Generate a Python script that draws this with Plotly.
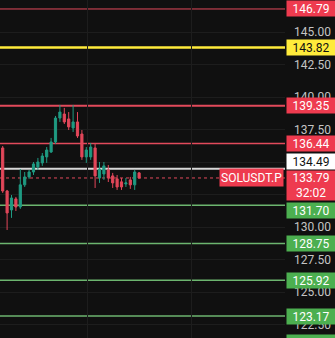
import plotly.graph_objects as go

# ---- data ----
candle_index = list(range(32))
open_ = [136.10, 132.79, 131.33, 132.18, 131.56, 133.26, 133.87, 134.25, 134.64, 134.95,
         135.41, 135.79, 136.56, 138.40, 138.71, 138.33, 137.64, 138.10, 137.17, 135.41,
         135.41, 136.10, 133.79, 134.10, 134.41, 133.95, 133.72, 133.49, 133.33, 133.64,
         133.26, 134.18]
close = [132.79, 131.10, 132.25, 131.56, 133.26, 133.87, 134.25, 134.87, 135.02, 135.48,
         135.94, 136.56, 138.40, 138.86, 138.10, 137.72, 138.10, 137.02, 135.41, 135.94,
         136.17, 133.95, 134.48, 134.72, 133.79, 133.41, 133.10, 133.10, 133.41, 133.26,
         134.25, 133.79]
high = [136.25, 132.87, 132.48, 132.33, 134.48, 134.25, 134.41, 135.02, 135.33, 135.71,
        136.17, 136.87, 138.56, 139.41, 139.18, 138.86, 139.41, 138.86, 137.48, 136.17,
        136.48, 136.48, 135.02, 135.02, 134.79, 134.18, 134.02, 133.79, 133.79, 133.87,
        134.41, 134.25]
low = [132.64, 129.79, 130.72, 131.25, 131.41, 133.10, 133.72, 134.02, 134.41, 134.72,
       134.95, 135.71, 136.41, 138.10, 137.94, 137.48, 137.33, 136.87, 135.18, 134.95,
       135.18, 133.02, 133.41, 133.64, 133.48, 133.02, 132.87, 132.87, 133.10, 132.95,
       132.87, 133.75]

red_levels = [146.79, 139.35, 136.44]
yellow_levels = [143.82]
green_levels = [131.70, 128.75, 125.92, 123.17]
offscreen_green_level = 121.10
white_level = 134.49
last_price = 133.79
countdown = "32:02"
symbol = "SOLUSDT.P"
tick_values = [122.5, 125.0, 127.5, 130.0, 132.5, 135.0, 137.5, 140.0, 142.5, 145.0, 147.5]
hidden_tick_values = [132.5, 135.0, 147.5]   # covered by price labels in the reference

# ---- style ----
BG = "#101010"
GRID = "#1d1d1d"
RED = "#ee3b4f"
RED_LINE = "#e24a5b"
GREEN = "#4caf50"
GREEN_LINE = "#6cb56f"
YELLOW = "#ffeb3b"
UP = "#1f9a82"
DOWN = "#e2475a"
Y0, Y1 = 121.48, 147.48
FONT = "Roboto"

fig = go.Figure()
fig.add_trace(go.Candlestick(
    x=candle_index, open=open_, high=high, low=low, close=close,
    increasing=dict(line=dict(color=UP, width=1), fillcolor=UP),
    decreasing=dict(line=dict(color=DOWN, width=1), fillcolor=DOWN),
    whiskerwidth=0, showlegend=False, hoverinfo="skip",
))

shapes = []
def hline(y, color, width, dash="solid"):
    shapes.append(dict(type="line", xref="paper", x0=0, x1=1, yref="y", y0=y, y1=y,
                       line=dict(color=color, width=width, dash=dash), layer="below"))

red_widths = [1, 2, 1.5]
for lv, w in zip(red_levels, red_widths):
    hline(lv, RED_LINE, w)
for lv in yellow_levels:
    hline(lv, YELLOW, 2.5)
for lv in green_levels:
    hline(lv, GREEN_LINE, 1.5)
hline(white_level, "#d8d8d8", 2)
hline(last_price, RED_LINE, 1, "dot")

annotations = []
def label(y, text, bg, fg, yshift=0, height=15, yanchor="middle", yref="y"):
    annotations.append(dict(xref="paper", x=1, xanchor="left", xshift=1,
                            yref=yref, y=y, yanchor=yanchor, yshift=yshift,
                            text=text, showarrow=False, bgcolor=bg,
                            font=dict(family=FONT, size=12, color=fg),
                            width=48, height=height, borderpad=0, align="center"))

for lv in red_levels:
    label(lv, f"{lv:.2f}", RED, "white")
for lv in yellow_levels:
    label(lv, f"{lv:.2f}", YELLOW, "#111111")
label(white_level, f"{white_level:.2f}", "#ffffff", "#111111", yshift=7)
label(last_price, f"{last_price:.2f}<br>{countdown}", RED, "white",
      yshift=8, height=29, yanchor="top")
green_shifts = [-5, 0, 0, 0]
for lv, s in zip(green_levels, green_shifts):
    label(lv, f"{lv:.2f}", GREEN, "white", yshift=s)
label((offscreen_green_level - Y0) / (Y1 - Y0), "", GREEN, "white", yref="paper")

annotations.append(dict(xref="paper", x=1, xanchor="right", xshift=-1,
                        yref="y", y=last_price, yanchor="middle",
                        text=symbol, showarrow=False, bgcolor=RED,
                        font=dict(family=FONT, size=12, color="white"),
                        height=15, borderpad=1))

tick_text = ["" if v in hidden_tick_values else f"{v:.2f}" for v in tick_values]

fig.update_layout(
    width=335, height=338,
    margin=dict(l=0, r=50, t=0, b=0),
    paper_bgcolor=BG, plot_bgcolor=BG,
    shapes=shapes, annotations=annotations,
    xaxis=dict(range=[-0.614, 64.16], showticklabels=False, showgrid=True,
               gridcolor=GRID, tickmode="linear", tick0=19.2, dtick=23.6,
               zeroline=False, rangeslider=dict(visible=False), fixedrange=True),
    yaxis=dict(range=[Y0, Y1], side="right", tickvals=tick_values, ticktext=tick_text,
               tickfont=dict(family=FONT, size=12, color="#c4c4c4"),
               showgrid=True, gridcolor=GRID, zeroline=False, ticks="",
               ticklabelstandoff=8, fixedrange=True),
    showlegend=False,
)

fig.write_html("out.html")
